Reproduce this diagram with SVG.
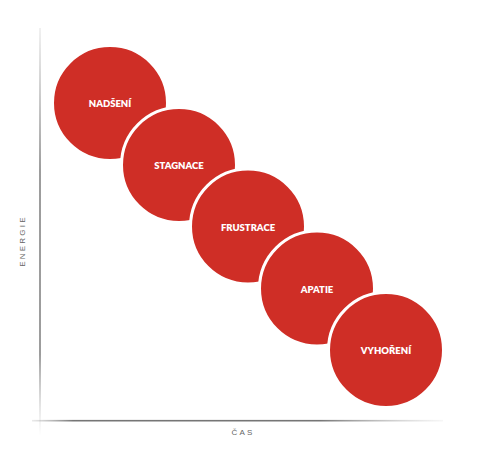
<svg xmlns="http://www.w3.org/2000/svg" width="488" height="462" viewBox="0 0 488 462">
  <defs>
    <linearGradient id="vgrad" x1="0" y1="28" x2="0" y2="436" gradientUnits="userSpaceOnUse">
      <stop offset="0" stop-color="#888" stop-opacity="0.15"/>
      <stop offset="0.35" stop-color="#777" stop-opacity="0.9"/>
      <stop offset="0.8" stop-color="#777" stop-opacity="0.9"/>
      <stop offset="0.93" stop-color="#999" stop-opacity="0.3"/>
      <stop offset="1" stop-color="#aaa" stop-opacity="0"/>
    </linearGradient>
    <linearGradient id="hgrad" x1="32" y1="0" x2="443" y2="0" gradientUnits="userSpaceOnUse">
      <stop offset="0" stop-color="#999" stop-opacity="0.2"/>
      <stop offset="0.1" stop-color="#666" stop-opacity="0.9"/>
      <stop offset="0.7" stop-color="#666" stop-opacity="0.9"/>
      <stop offset="1" stop-color="#aaa" stop-opacity="0.1"/>
    </linearGradient>
    <style>
      .stage circle { fill: #cf2e26; stroke: #ffffff; stroke-width: 3; }
      .stage text { fill: #ffffff; font-family: Lato, "Open Sans", sans-serif; font-weight: 800; font-size: 9.5px; text-anchor: middle; dominant-baseline: central; }
      .axlabel { fill: #666; font-family: "Liberation Sans", Arial, sans-serif; font-size: 8px; letter-spacing: 2.2px; text-anchor: middle; }
    </style>
  </defs>
  <rect width="488" height="462" fill="#ffffff"/>
  <g id="axes">
    <rect x="39.2" y="28" width="1.6" height="408" fill="url(#vgrad)"/>
    <rect x="32" y="419.9" width="411" height="1.6" fill="url(#hgrad)"/>
    <text class="axlabel" x="22.5" y="241" transform="rotate(-90 22.5 241)" dominant-baseline="central">ENERGIE</text>
    <text class="axlabel" x="243" y="435">ČAS</text>
  </g>
  <g id="connectors"></g>
  <g id="nadseni" class="stage">
    <circle cx="110" cy="103" r="57.5"/>
    <text x="110" y="103.5">NADŠENÍ</text>
  </g>
  <g id="stagnace" class="stage">
    <circle cx="179" cy="165" r="57.5"/>
    <text x="179" y="165.5">STAGNACE</text>
  </g>
  <g id="frustrace" class="stage">
    <circle cx="248" cy="226.5" r="57.5"/>
    <text x="248" y="227">FRUSTRACE</text>
  </g>
  <g id="apatie" class="stage">
    <circle cx="317" cy="288.5" r="57.5"/>
    <text x="317" y="289">APATIE</text>
  </g>
  <g id="vyhoreni" class="stage">
    <circle cx="386" cy="350" r="57.5"/>
    <text x="386" y="350.5">VYHOŘENÍ</text>
  </g>
</svg>
